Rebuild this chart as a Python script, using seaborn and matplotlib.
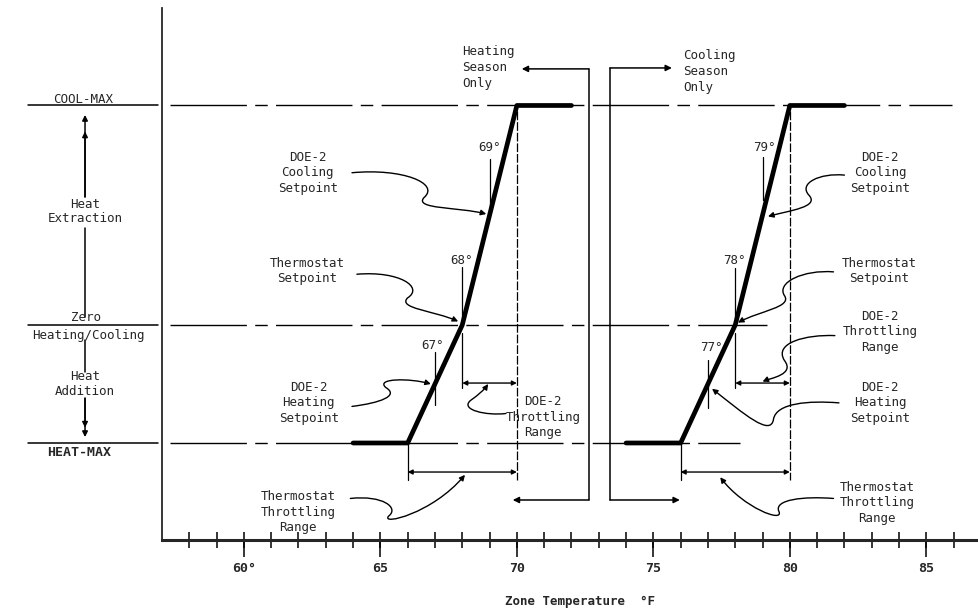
import matplotlib
matplotlib.use("Agg")
import pandas as pd
import matplotlib.pyplot as plt
import seaborn as sns
from matplotlib.path import Path
from matplotlib.patches import FancyArrowPatch

# load levels on the vertical scale
HEAT_MAX = -1.0
ZERO = 0.0
COOL_MAX = 1.86

# control curves (zone temperature, F)
heat_temps = [64, 66, 68, 70, 72]
cool_temps = [74, 76, 78, 80, 82]
ramp_loads = [HEAT_MAX, HEAT_MAX, ZERO, COOL_MAX, COOL_MAX]

heat_setpoints = [67, 68, 69]
cool_setpoints = [77, 78, 79]
heat_range = [66, 70]
cool_range = [76, 80]
heat_doe2_range = [68, 70]
cool_doe2_range = [78, 80]
season_split = [72.64, 73.41]

major_ticks = [60, 65, 70, 75, 80, 85]
tick_labels = ["60°", "65", "70", "75", "80", "85"]
minor_ticks = list(range(58, 87))

sns.set_style("white")
plt.rcParams['font.family'] = ['DejaVu Sans Mono', 'DejaVu Sans']
FS = 9

fig = plt.figure(figsize=(9.79, 6.09), dpi=100)
ax = fig.add_axes([162 / 979, 69 / 609, 817 / 979, 532 / 609])
ax.set_xlim(57, 86.93)
ax.set_ylim(-1.822, 2.686)

# reference levels (dashed inside, solid stub on the left)
dash = (0, (55, 6, 9, 6))
for y, x_end in [(COOL_MAX, 85.93), (ZERO, 79.16), (HEAT_MAX, 78.17)]:
    ax.plot([57.29, x_end], [y, y], color="black", lw=1, ls=dash)
    ax.plot([52.1, 56.85], [y, y], color="black", lw=1.1, clip_on=False)

# the two control ramps
df = pd.DataFrame({
    "temp": heat_temps + cool_temps,
    "load": ramp_loads * 2,
    "season": ["heat"] * 5 + ["cool"] * 5,
})
sns.lineplot(data=df, x="temp", y="load", units="season", estimator=None,
             sort=False, color="black", lw=3.4, ax=ax, legend=False)

# left-hand labels
ax.text(54.1, 1.91, "COOL-MAX", ha="center", va="center", fontsize=FS, clip_on=False)
ax.text(53.95, -1.08, "HEAT-MAX", ha="center", va="center", fontsize=FS + 0.5,
        fontweight="bold", clip_on=False)
ax.text(54.2, 0.06, "Zero", ha="center", va="center", fontsize=FS, clip_on=False)
ax.text(54.3, -0.09, "Heating/Cooling", ha="center", va="center", fontsize=FS, clip_on=False)
ax.text(54.18, 0.96, "Heat\nExtraction", ha="center", va="center", fontsize=FS,
        linespacing=1.15, clip_on=False)
ax.text(54.18, -0.50, "Heat\nAddition", ha="center", va="center", fontsize=FS,
        linespacing=1.15, clip_on=False)

ak = dict(arrowstyle="-|>", lw=1.1, color="black", mutation_scale=8, shrinkA=0, shrinkB=0)
for tip in [1.78, 1.64]:
    ax.annotate("", xy=(54.18, tip), xytext=(54.18, 1.085), arrowprops=ak, annotation_clip=False)
for tip in [-0.95, -0.87]:
    ax.annotate("", xy=(54.18, tip), xytext=(54.18, -0.62), arrowprops=ak, annotation_clip=False)
ax.plot([54.18, 54.18], [0.82, 0.07], color="black", lw=1.1, clip_on=False)
ax.plot([54.18, 54.18], [-0.13, -0.40], color="black", lw=1.1, clip_on=False)

# thin verticals marking range limits
thin = dict(color="black", lw=0.9)
for lo, hi in [heat_range, cool_range]:
    ax.plot([hi, hi], [COOL_MAX - 0.05, -1.31], ls=(0, (7, 1.5)), **thin)
    ax.plot([lo, lo], [HEAT_MAX, -1.31], **thin)
for lo, hi in [heat_doe2_range, cool_doe2_range]:
    ax.plot([lo, lo], [-0.07, -0.53], **thin)

# range brackets
bk = dict(arrowstyle="<|-|>", lw=1, color="black", mutation_scale=7, shrinkA=0, shrinkB=0)
for lo, hi in [heat_range, cool_range]:
    ax.annotate("", xy=(hi, -1.246), xytext=(lo, -1.246), arrowprops=bk)
for lo, hi in [heat_doe2_range, cool_doe2_range]:
    ax.annotate("", xy=(hi, -0.492), xytext=(lo, -0.492), arrowprops=bk)

# setpoint marks
marks = [
    (heat_setpoints[0], 66.9, -0.17, -0.23, -0.68),
    (heat_setpoints[1], 67.96, 0.55, 0.49, 0.0),
    (heat_setpoints[2], 69.0, 1.50, 1.41, 1.00),
    (cool_setpoints[0], 77.14, -0.19, -0.30, -0.70),
    (cool_setpoints[1], 77.98, 0.55, 0.48, 0.06),
    (cool_setpoints[2], 79.05, 1.50, 1.42, 1.06),
]
for sp, lx, ly, top, bot in marks:
    ax.plot([sp, sp], [top, bot], **thin)
    ax.text(lx, ly, f"{sp}°", ha="center", va="center", fontsize=FS)

# season split lines
hs, cs = season_split
ax.plot([hs, hs], [2.17, -1.483], color="black", lw=1.1)
ax.plot([cs, cs], [2.178, -1.483], color="black", lw=1.1)
ak2 = dict(arrowstyle="-|>", lw=1.1, color="black", mutation_scale=9, shrinkA=0, shrinkB=0)
ax.annotate("", xy=(70.18, 2.17), xytext=(hs, 2.17), arrowprops=ak2)
ax.annotate("", xy=(69.85, -1.483), xytext=(hs, -1.483), arrowprops=ak2)
ax.annotate("", xy=(75.68, 2.178), xytext=(cs, 2.178), arrowprops=ak2)
ax.annotate("", xy=(75.97, -1.483), xytext=(cs, -1.483), arrowprops=ak2)
ax.text(68.0, 2.178, "Heating\nSeason\nOnly", ha="left", va="center", fontsize=FS, linespacing=1.3)
ax.text(76.08, 2.144, "Cooling\nSeason\nOnly", ha="left", va="center", fontsize=FS, linespacing=1.3)

# callout labels
labels = [
    ("DOE-2\nCooling\nSetpoint", 62.34, 1.288),
    ("Thermostat\nSetpoint", 62.31, 0.458),
    ("DOE-2\nHeating\nSetpoint", 62.38, -0.661),
    ("DOE-2\nThrottling\nRange", 70.95, -0.78),
    ("Thermostat\nThrottling\nRange", 61.98, -1.585),
    ("DOE-2\nCooling\nSetpoint", 83.3, 1.288),
    ("Thermostat\nSetpoint", 83.26, 0.458),
    ("DOE-2\nThrottling\nRange", 83.3, -0.059),
    ("DOE-2\nHeating\nSetpoint", 83.3, -0.661),
    ("Thermostat\nThrottling\nRange", 83.19, -1.508),
]
for txt, x, y in labels:
    ax.text(x, y, txt, ha="center", va="center", fontsize=FS, linespacing=1.25)

# wavy leader lines
leaders = [
    [(63.96, 1.29), (65.8, 1.33), (67.2, 1.2), (66.6, 1.08), (66.2, 0.98), (67.9, 1.0), (68.88, 0.94)],
    [(64.14, 0.43), (65.7, 0.46), (66.6, 0.32), (66.0, 0.23), (65.6, 0.14), (67.0, 0.12), (67.85, 0.03)],
    [(63.96, -0.69), (65.0, -0.66), (65.7, -0.6), (65.2, -0.53), (64.8, -0.45), (66.1, -0.45), (66.85, -0.5)],
    [(69.6, -0.75), (68.9, -0.77), (67.9, -0.72), (68.3, -0.64), (68.6, -0.59), (68.8, -0.55), (68.95, -0.5)],
    [(63.9, -1.47), (65.1, -1.44), (65.7, -1.55), (65.3, -1.62), (65.0, -1.7), (66.9, -1.6), (68.1, -1.27)],
    [(82.0, 1.27), (81.1, 1.29), (80.3, 1.2), (80.7, 1.1), (81.1, 1.0), (80.0, 0.97), (79.2, 0.92)],
    [(81.6, 0.45), (80.5, 0.47), (79.5, 0.36), (79.8, 0.25), (80.1, 0.15), (78.9, 0.12), (78.1, 0.02)],
    [(81.65, -0.09), (80.6, -0.08), (79.4, -0.15), (79.8, -0.3), (80.2, -0.42), (79.3, -0.45), (79.0, -0.48)],
    [(81.8, -0.66), (80.7, -0.64), (79.5, -0.66), (79.4, -0.8), (79.3, -0.95), (78.3, -0.75), (77.15, -0.54)],
    [(81.6, -1.47), (80.5, -1.45), (79.4, -1.48), (79.6, -1.58), (79.8, -1.68), (78.3, -1.55), (77.45, -1.29)],
]
codes = [Path.MOVETO] + [Path.CURVE4] * 6
for pts in leaders:
    ax.add_patch(FancyArrowPatch(path=Path(pts, codes), arrowstyle="-|>", mutation_scale=8,
                                 lw=1, color="black", shrinkA=0, shrinkB=0))

# axes styling
sns.despine(ax=ax, top=True, right=True)
ax.spines["left"].set_linewidth(1.3)
ax.spines["bottom"].set_linewidth(2.2)
ax.set_yticks([])
ax.set_ylabel("")
ax.set_xticks(major_ticks)
ax.set_xticklabels(tick_labels, fontweight="bold", fontsize=9.5)
ax.set_xticks(minor_ticks, minor=True)
ax.xaxis.remove_overlapping_locs = False
ax.tick_params(axis="x", which="both", bottom=True, top=False)
ax.tick_params(axis="x", which="minor", direction="inout", length=12, width=1.1, color="black")
ax.tick_params(axis="x", which="major", direction="out", length=12, width=1.1, pad=4, color="black")
ax.set_xlabel("Zone Temperature  °F", fontweight="bold", fontsize=9)
ax.xaxis.set_label_coords(0.5116, -0.103)

fig.savefig("out.png", dpi=100)
